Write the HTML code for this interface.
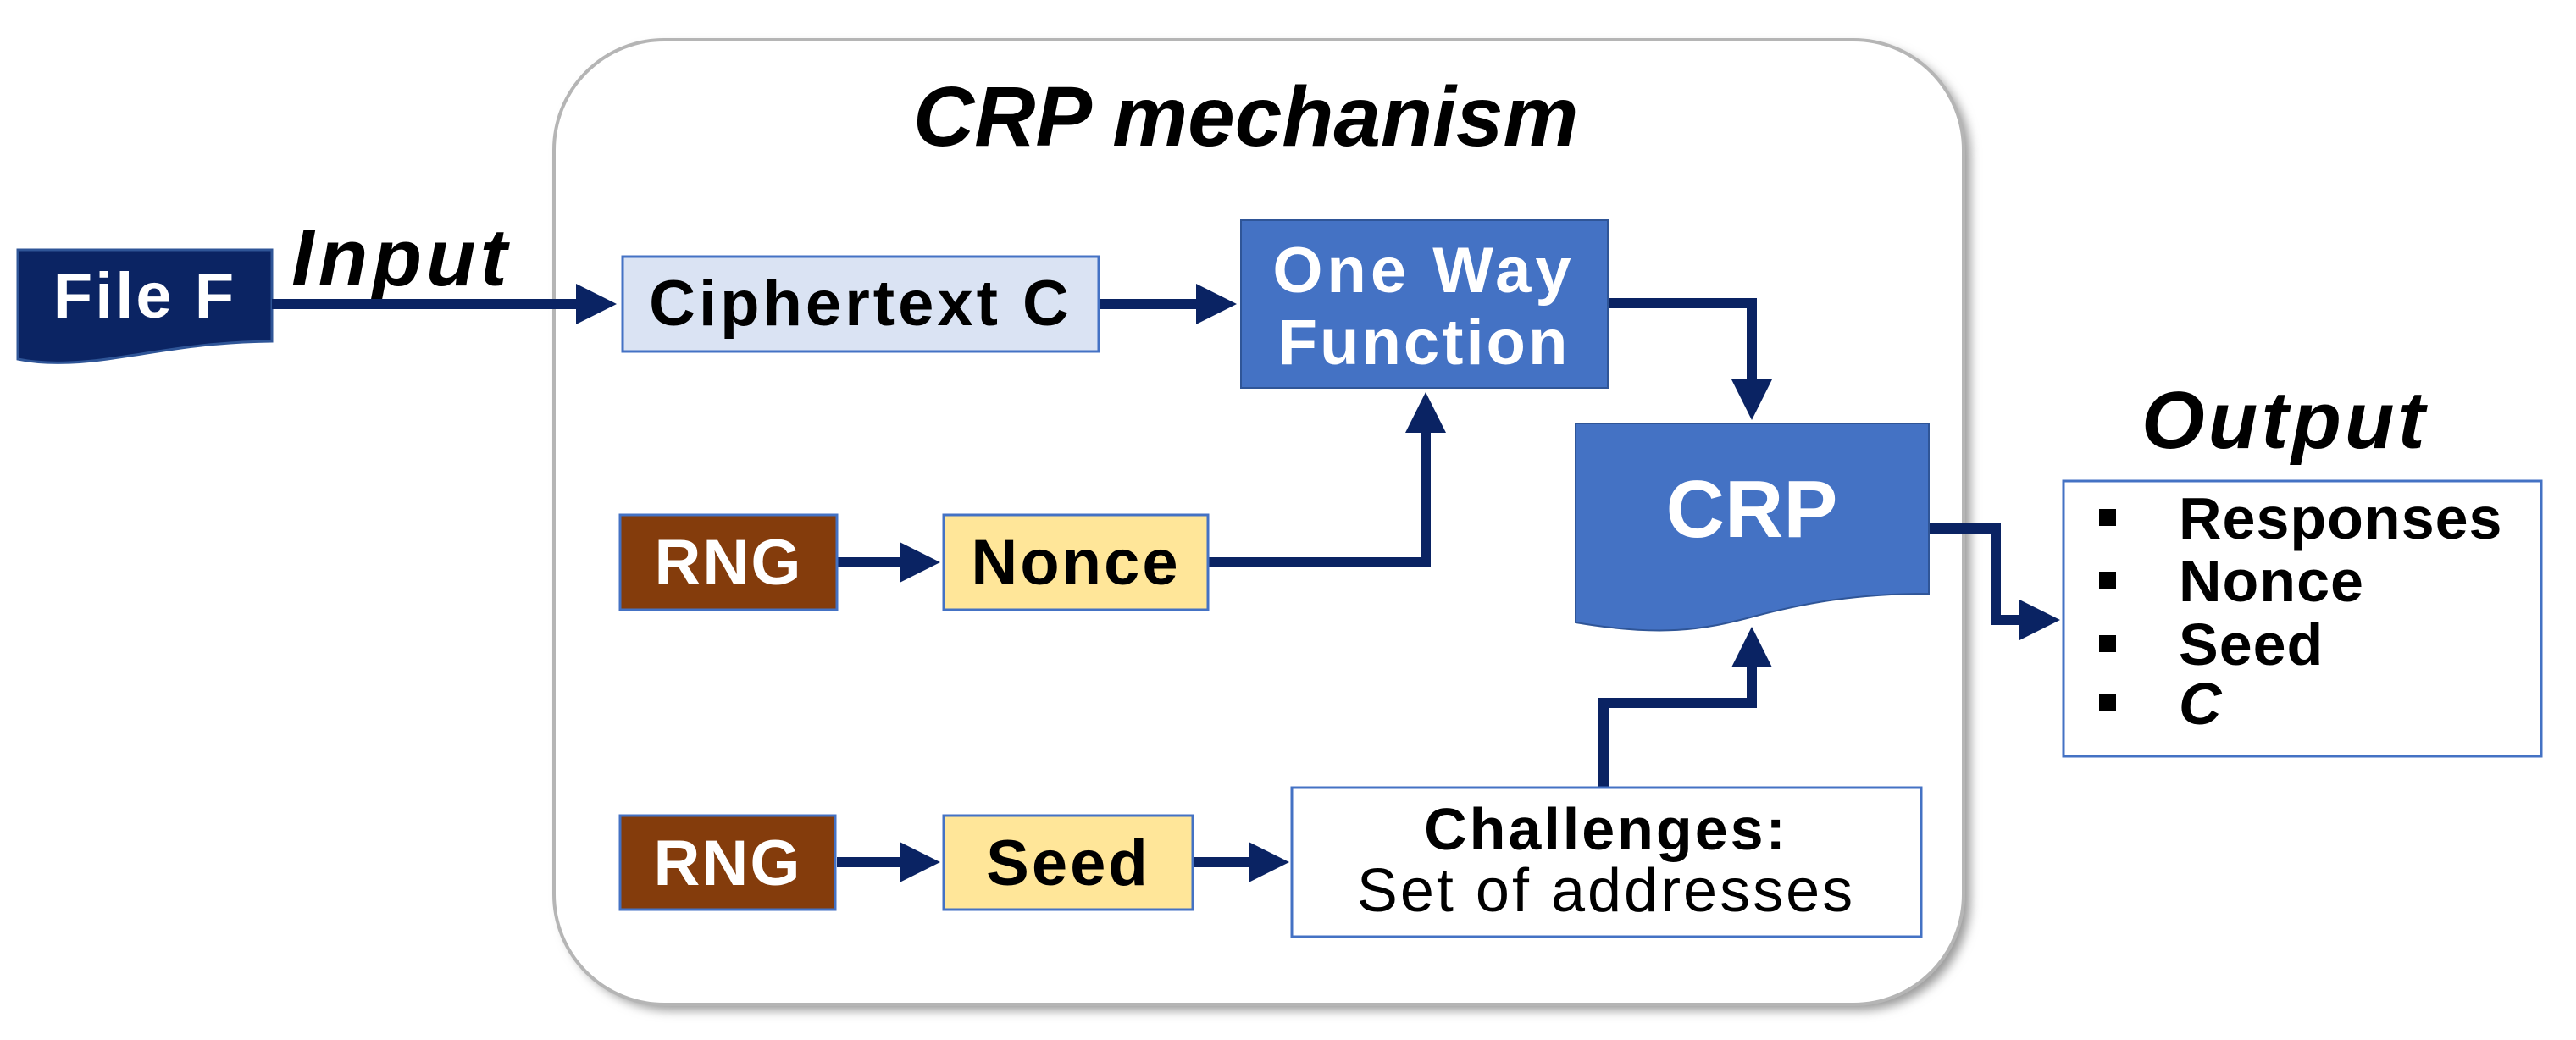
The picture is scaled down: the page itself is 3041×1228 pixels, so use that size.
<!DOCTYPE html>
<html><head><meta charset="utf-8"><style>
html,body{margin:0;padding:0;background:#fff;overflow:hidden;}
svg{display:block;}
text{font-family:"Liberation Sans","DejaVu Sans",sans-serif;font-weight:bold;}
</style></head><body>
<svg width="3041" height="1228" viewBox="0 0 3041 1228" xmlns="http://www.w3.org/2000/svg">
<defs>
<filter id="sh" x="-5%" y="-5%" width="110%" height="110%"><feGaussianBlur stdDeviation="6"/></filter>
<marker id="ar" markerWidth="4" markerHeight="4" refX="3" refY="2" orient="auto" markerUnits="strokeWidth">
<path d="M0,0 L4,2 L0,4 z" fill="#0a2363"/></marker>
</defs>
<rect x="662" y="54" width="1664" height="1139" rx="130" fill="#9a9a9a" filter="url(#sh)"/>
<rect x="654" y="47" width="1664" height="1139" rx="130" fill="#fff" stroke="#b5b5b5" stroke-width="4"/>
<text x="1078" y="172" font-size="100" font-style="italic" fill="#000">CRP mechanism</text>

<path d="M21,295 H321 V403 C240,404 190,415 140,422 C90,430 50,430 21,424 Z" fill="#0b2463" stroke="#2f5597" stroke-width="3"/>
<text x="171" y="375" font-size="76" fill="#fff" text-anchor="middle" letter-spacing="3">File F</text>
<text x="344" y="337" font-size="96" font-style="italic" fill="#000" letter-spacing="5">Input</text>

<g stroke="#0a2363" stroke-width="12" fill="none">
<path d="M321,359 H716" marker-end="url(#ar)"/>
<path d="M1297,359 H1448" marker-end="url(#ar)"/>
<path d="M988,664 H1098" marker-end="url(#ar)"/>
<path d="M988,1018 H1098" marker-end="url(#ar)"/>
<path d="M1408,1018 H1510" marker-end="url(#ar)"/>
<path d="M1426,664 H1683 V475" marker-end="url(#ar)"/>
<path d="M1898,358 H2068 V484" marker-end="url(#ar)"/>
<path d="M1893,930 V830 H2068 V752" marker-end="url(#ar)"/>
<path d="M2277,624 H2356 V732 H2420" marker-end="url(#ar)"/>
</g>

<rect x="735" y="303" width="562" height="112" fill="#dae3f3" stroke="#4472c4" stroke-width="3"/>
<text x="1016" y="384" font-size="76" fill="#000" text-anchor="middle" letter-spacing="4">Ciphertext C</text>

<rect x="1465" y="260" width="433" height="198" fill="#4472c4" stroke="#2f5597" stroke-width="2"/>
<text x="1681" y="345" font-size="76" fill="#fff" text-anchor="middle" letter-spacing="5">One Way</text>
<text x="1681" y="430" font-size="76" fill="#fff" text-anchor="middle" letter-spacing="3">Function</text>

<rect x="732" y="608" width="256" height="112" fill="#843c0c" stroke="#4472c4" stroke-width="3"/>
<text x="860" y="690" font-size="76" fill="#fff" text-anchor="middle" letter-spacing="2">RNG</text>
<rect x="1114" y="608" width="312" height="112" fill="#ffe699" stroke="#4472c4" stroke-width="3"/>
<text x="1270" y="690" font-size="76" fill="#000" text-anchor="middle" letter-spacing="3">Nonce</text>

<rect x="732" y="963" width="254" height="111" fill="#843c0c" stroke="#4472c4" stroke-width="3"/>
<text x="859" y="1045" font-size="76" fill="#fff" text-anchor="middle" letter-spacing="2">RNG</text>
<rect x="1114" y="963" width="294" height="111" fill="#ffe699" stroke="#4472c4" stroke-width="3"/>
<text x="1261" y="1045" font-size="76" fill="#000" text-anchor="middle" letter-spacing="3">Seed</text>

<rect x="1525" y="930" width="743" height="176" fill="#fff" stroke="#4472c4" stroke-width="3"/>
<text x="1896" y="1003" font-size="70" fill="#000" text-anchor="middle" letter-spacing="3">Challenges:</text>
<text x="1896" y="1076" font-size="72" fill="#000" text-anchor="middle" style="font-weight:normal" letter-spacing="3">Set of addresses</text>

<path d="M1860,500 H2277 V701 C2190,701 2130,712 2070,728 C2010,744 1960,752 1860,735 Z" fill="#4472c4" stroke="#2f5597" stroke-width="2"/>
<text x="2068" y="634" font-size="96" fill="#fff" text-anchor="middle">CRP</text>

<text x="2528" y="529" font-size="96" font-style="italic" fill="#000" letter-spacing="4">Output</text>
<rect x="2436" y="568" width="564" height="325" fill="#fff" stroke="#4472c4" stroke-width="3"/>
<g fill="#000">
<rect x="2478" y="601" width="20" height="20"/>
<rect x="2478" y="675" width="20" height="20"/>
<rect x="2478" y="750" width="20" height="20"/>
<rect x="2478" y="820" width="20" height="20"/>
</g>
<g font-size="70" fill="#000" letter-spacing="1">
<text x="2572" y="636">Responses</text>
<text x="2572" y="710">Nonce</text>
<text x="2572" y="785">Seed</text>
<text x="2572" y="855" font-style="italic">C</text>
</g>
</svg>
</body></html>
